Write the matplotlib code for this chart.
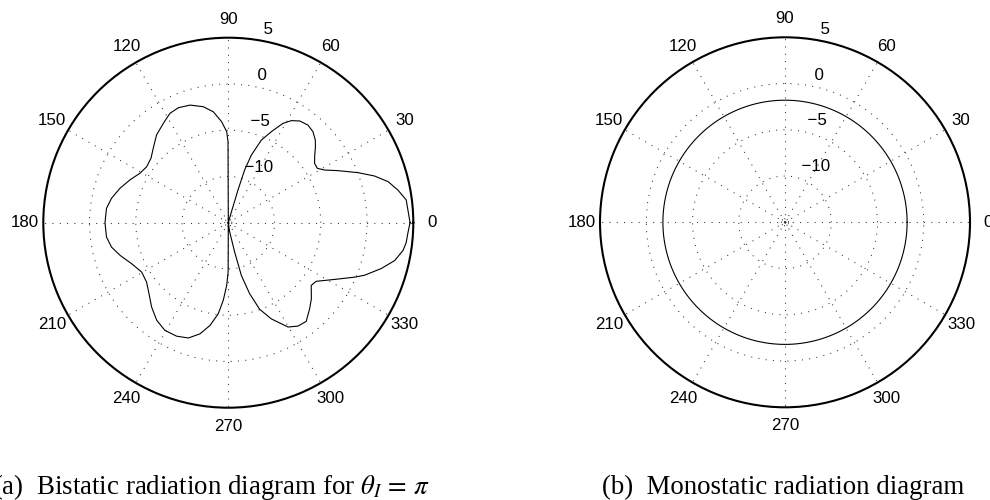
import numpy as np
import matplotlib
matplotlib.use("Agg")
import matplotlib.pyplot as plt

plt.rcParams["mathtext.fontset"] = "stix"

# ---------------- data ----------------
# (a) bistatic radiation diagram, angle in degrees, level in dB
bistatic_theta_deg = [
    0, 7.3, 10.9, 14.4, 17.7, 21.1, 25.4, 28.7, 31.4, 34.5, 37.4, 41.1, 43.5,
    47.1, 50.8, 54.9, 58.3, 61.2, 64.7, 68.2, 71.2, 72.8, 73.5, 73.9, 74.5,
    90.0, 90.2, 91.0, 93.8, 97.7, 102.2, 108.0, 113.5, 118.1, 123.2, 129.3,
    135.3, 140.2, 145.6, 150.8, 156.5, 162.4, 168.2, 173.3, 180.0, 186.7,
    191.8, 196.8, 203.0, 209.7, 216.0, 222.6, 227.7, 233.7, 239.5, 245.5,
    250.9, 255.7, 259.9, 263.7, 266.3, 268.5, 269.8, 270.0, 277.0, 278.5,
    282.2, 283.9, 286.7, 289.9, 294.1, 299.8, 304.0, 308.3, 313.4, 317.5,
    322.9, 326.3, 331.9, 336.7, 338.9, 343.3, 347.2, 351.0, 353.6, 357.0, 360.0,
]
bistatic_db = [
    4.65, 4.39, 3.67, 2.84, 1.60, 0.03, -1.88, -3.14, -3.72, -3.68, -3.25, -2.50, -2.03,
    -1.56, -1.38, -1.56, -2.03, -2.75, -4.12, -5.38, -7.29, -9.05, -11.3, -13.6, -15.0,
    -15.0, -6.24, -5.16, -4.05, -2.90, -2.17, -1.63, -1.45, -1.60, -2.17, -2.75,
    -3.58, -4.12, -4.30, -4.05, -3.40, -2.71, -2.10, -1.74, -1.67, -1.74,
    -2.10, -2.78, -3.65, -4.22, -4.08, -3.40, -2.68, -1.92, -1.49, -1.52,
    -1.81, -2.60, -3.72, -5.10, -6.60, -8.20, -9.67, -15.0, -15.0, -14.0,
    -11.76, -9.13, -7.00, -5.05, -3.61, -2.00, -1.52, -1.41, -2.20, -2.82,
    -3.76, -3.58, -1.98, -0.12, 0.78, 2.26, 3.45, 4.13, 4.35, 4.46, 4.65,
]
# (b) monostatic radiation diagram: constant level in dB
mono_db = -1.8

r_min, r_max = -15, 5
ring_values = [-10, -5, 0, 5]
ring_labels = ["\u221210", "\u22125", "0", "5"]
angle_ticks = [0, 30, 60, 90, 120, 150, 180, 210, 240, 270, 300, 330]
angle_labels = ["0", "30", "60", "90", "120", "150", "180", "210", "240", "270", "300", "330"]
captions = [r"(a)  Bistatic radiation diagram for $\theta_I\,=\,\pi$",
            "(b)  Monostatic radiation diagram"]

# ---------------- layout ----------------
W, H = 990, 500
fig = plt.figure(figsize=(W / 100, H / 100), dpi=100)
fig.patch.set_facecolor("white")

GRID_KW = dict(color="0.2", linestyle=(0, (1, 6)), linewidth=0.75)
TICK_FONT = dict(family=["Liberation Sans", "DejaVu Sans"], fontsize=12.2, color="black")


def make_polar(cx, cy, R):
    ax = fig.add_axes([(cx - R) / W, 1 - (cy + R) / H, 2 * R / W, 2 * R / H],
                      projection="polar")
    ax.set_ylim(r_min, r_max)
    ax.set_yticks(ring_values[:-1])
    ax.set_yticklabels([])
    ax.set_xticks(np.deg2rad(angle_ticks))
    ax.set_xticklabels([])
    ax.tick_params(length=0)
    ax.grid(True, **GRID_KW)
    ax.spines["polar"].set_linewidth(1.5)
    ax.spines["polar"].set_color("black")
    # tiny ring at the center (MATLAB polar artefact)
    tt = np.linspace(0, 2 * np.pi, 60)
    ax.plot(tt, np.full_like(tt, r_min + 0.38), color="0.2",
            linestyle=(0, (1, 1.5)), linewidth=0.75, zorder=1)
    # angle labels
    for a, lab in zip(angle_ticks, angle_labels):
        ax.text(np.deg2rad(a), r_max + 0.1 * (r_max - r_min), lab,
                ha="center", va="center", clip_on=False, **TICK_FONT)
    # ring labels
    for v, lab in zip(ring_values, ring_labels):
        ax.text(np.deg2rad(82), v + 0.25, "  " + lab, ha="left", va="bottom",
                clip_on=False, **TICK_FONT)
    return ax


ax1 = make_polar(228.3, 222.7, 185)
ax1.plot(np.deg2rad(bistatic_theta_deg), np.clip(bistatic_db, r_min, r_max),
         color="black", linewidth=0.8, zorder=3)

ax2 = make_polar(785, 222.3, 185)
mono_theta = np.linspace(0, 2 * np.pi, 361)
ax2.plot(mono_theta, np.full_like(mono_theta, mono_db),
         color="black", linewidth=0.8, zorder=3)

CAP_FONT = dict(family=["Liberation Serif", "DejaVu Serif"], fontsize=19.4, color="black")
fig.text(-7 / W, 1 - 494 / H, captions[0], ha="left", va="baseline", **CAP_FONT)
fig.text(602 / W, 1 - 494 / H, captions[1], ha="left", va="baseline", **CAP_FONT)

fig.savefig("out.png", dpi=100, facecolor="white")
